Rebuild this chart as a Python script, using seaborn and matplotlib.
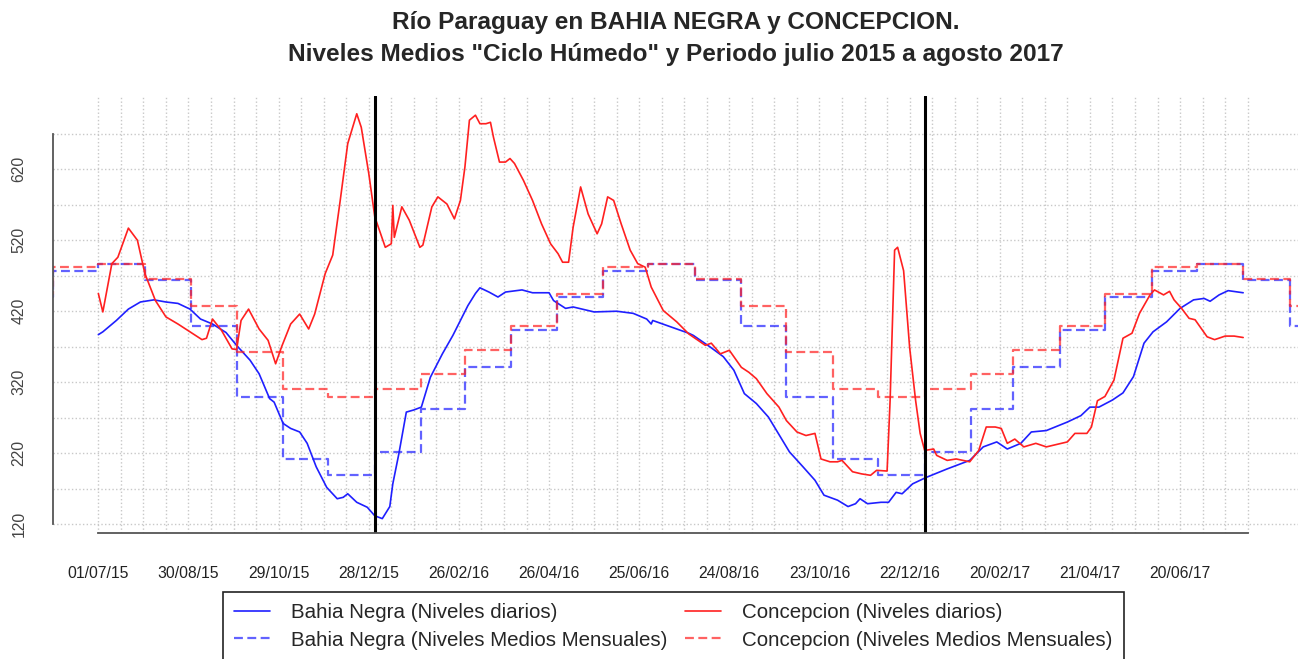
import matplotlib
matplotlib.use('Agg')
import matplotlib.pyplot as plt
import matplotlib.dates as mdates
import pandas as pd
import seaborn as sns

# Bahia Negra, daily levels (cm)
bn_dates = ['2015-07-01', '2015-07-04', '2015-07-13', '2015-07-21', '2015-07-29', '2015-08-07',
            '2015-08-15', '2015-08-23', '2015-08-31', '2015-09-07', '2015-09-15', '2015-09-24',
            '2015-10-01', '2015-10-10', '2015-10-16', '2015-10-23', '2015-10-26', '2015-11-01',
            '2015-11-06', '2015-11-12', '2015-11-17', '2015-11-23', '2015-11-30', '2015-12-07',
            '2015-12-11', '2015-12-14', '2015-12-20', '2015-12-27', '2016-01-01', '2016-01-06',
            '2016-01-11', '2016-01-13', '2016-01-17', '2016-01-22', '2016-01-27', '2016-02-01',
            '2016-02-07', '2016-02-15', '2016-02-22', '2016-02-27', '2016-03-03', '2016-03-08',
            '2016-03-11', '2016-03-17', '2016-03-23', '2016-03-28', '2016-04-08', '2016-04-15',
            '2016-04-26', '2016-04-29', '2016-05-07', '2016-05-12', '2016-05-26', '2016-06-10',
            '2016-06-21', '2016-06-30', '2016-07-03', '2016-07-04', '2016-07-16', '2016-07-28',
            '2016-07-31', '2016-08-11', '2016-08-20', '2016-08-27', '2016-09-03', '2016-09-11',
            '2016-09-19', '2016-09-27', '2016-10-03', '2016-10-12', '2016-10-20', '2016-10-26',
            '2016-11-04', '2016-11-11', '2016-11-16', '2016-11-19', '2016-11-24', '2016-12-03',
            '2016-12-08', '2016-12-13', '2016-12-17', '2016-12-24', '2017-01-02', '2017-01-16',
            '2017-01-31', '2017-02-09', '2017-02-18', '2017-02-25', '2017-03-06', '2017-03-13',
            '2017-03-23', '2017-04-06', '2017-04-15', '2017-04-21', '2017-04-27', '2017-05-06',
            '2017-05-13', '2017-05-20', '2017-05-27', '2017-06-02', '2017-06-11', '2017-06-20',
            '2017-06-29', '2017-07-06', '2017-07-10', '2017-07-16', '2017-07-22', '2017-08-01']
bn_levels = [387, 391, 407, 423, 433, 436,
             433, 431, 423, 409, 402, 390,
             372, 351, 332, 297, 292, 262,
             255, 250, 234, 201, 172, 156,
             158, 163, 151, 144, 132, 128,
             145, 177, 219, 278, 281, 285,
             327, 360, 386, 407, 428, 445,
             453, 447, 440, 447, 450, 446,
             446, 435, 424, 426, 419, 420,
             417, 409, 402, 407, 398, 389,
             386, 370, 356, 337, 304, 290,
             271, 243, 222, 201, 182, 161,
             154, 145, 149, 156, 149, 151,
             151, 165, 163, 177, 186, 198,
             210, 229, 236, 226, 234, 250,
             252, 264, 273, 285, 285, 295,
             305, 328, 375, 391, 405, 424,
             436, 438, 434, 443, 449, 446]

# Concepcion, daily levels (cm)
cc_dates = ['2015-07-01', '2015-07-04', '2015-07-10', '2015-07-14', '2015-07-21', '2015-07-27',
            '2015-08-01', '2015-08-08', '2015-08-15', '2015-08-23', '2015-08-31', '2015-09-08',
            '2015-09-11', '2015-09-15', '2015-09-21', '2015-09-28', '2015-10-01', '2015-10-04',
            '2015-10-09', '2015-10-16', '2015-10-22', '2015-10-27', '2015-10-31', '2015-11-06',
            '2015-11-12', '2015-11-18', '2015-11-22', '2015-11-29', '2015-12-04', '2015-12-09',
            '2015-12-14', '2015-12-20', '2015-12-23', '2015-12-28', '2016-01-01', '2016-01-08',
            '2016-01-12', '2016-01-13', '2016-01-14', '2016-01-19', '2016-01-24', '2016-01-31',
            '2016-02-02', '2016-02-08', '2016-02-12', '2016-02-18', '2016-02-23', '2016-02-27',
            '2016-03-01', '2016-03-04', '2016-03-08', '2016-03-11', '2016-03-15', '2016-03-18',
            '2016-03-20', '2016-03-24', '2016-03-28', '2016-03-31', '2016-04-03', '2016-04-09',
            '2016-04-15', '2016-04-21', '2016-04-27', '2016-05-02', '2016-05-05', '2016-05-09',
            '2016-05-12', '2016-05-17', '2016-05-22', '2016-05-28', '2016-05-31', '2016-06-04',
            '2016-06-08', '2016-06-13', '2016-06-19', '2016-06-24', '2016-06-29', '2016-07-03',
            '2016-07-11', '2016-07-20', '2016-07-28', '2016-08-08', '2016-08-12', '2016-08-18',
            '2016-08-24', '2016-09-01', '2016-09-06', '2016-09-11', '2016-09-18', '2016-09-26',
            '2016-10-01', '2016-10-08', '2016-10-14', '2016-10-20', '2016-10-24', '2016-10-30',
            '2016-11-04', '2016-11-07', '2016-11-14', '2016-11-20', '2016-11-26', '2016-11-30',
            '2016-12-07', '2016-12-09', '2016-12-12', '2016-12-14', '2016-12-18', '2016-12-22',
            '2016-12-26', '2016-12-29', '2017-01-01', '2017-01-07', '2017-01-09', '2017-01-16',
            '2017-01-22', '2017-01-31', '2017-02-06', '2017-02-11', '2017-02-17', '2017-02-21',
            '2017-02-25', '2017-03-02', '2017-03-08', '2017-03-16', '2017-03-23', '2017-04-06',
            '2017-04-11', '2017-04-19', '2017-04-22', '2017-04-26', '2017-05-01', '2017-05-07',
            '2017-05-13', '2017-05-19', '2017-05-24', '2017-05-31', '2017-06-03', '2017-06-09',
            '2017-06-13', '2017-06-16', '2017-06-21', '2017-06-26', '2017-06-30', '2017-07-04',
            '2017-07-08', '2017-07-13', '2017-07-20', '2017-07-26', '2017-08-01']
cc_levels = [445, 419, 487, 496, 537, 520,
             473, 435, 412, 402, 391, 380,
             382, 409, 393, 367, 366, 407,
             423, 395, 379, 346, 370, 402,
             416, 395, 416, 473, 499, 576,
             656, 698, 679, 614, 553, 510,
             515, 569, 524, 567, 548, 510,
             513, 567, 581, 571, 550, 576,
             623, 689, 696, 684, 684, 686,
             665, 630, 630, 635, 628, 604,
             576, 543, 515, 501, 489, 489,
             538, 595, 557, 529, 543, 581,
             576, 543, 506, 487, 482, 454,
             421, 405, 388, 372, 375, 360,
             365, 341, 334, 325, 304, 285,
             266, 250, 245, 248, 212, 208,
             208, 210, 194, 191, 189, 196,
             195, 294, 506, 510, 477, 369,
             294, 248, 224, 226, 217, 210,
             212, 208, 224, 257, 257, 255,
             234, 240, 229, 234, 229, 236,
             248, 248, 257, 294, 300, 323,
             382, 389, 417, 443, 450, 443,
             448, 436, 424, 410, 408, 396,
             384, 380, 385, 385, 383]

# monthly mean levels of the wet cycle, January .. December
bn_monthly = [222, 283, 341, 394, 440, 477, 486, 464, 399, 299, 212, 189]
cc_monthly = [311, 331, 366, 399, 444, 482, 487, 465, 427, 362, 311, 299]

sns.set_style('white')
plt.rcParams['font.family'] = ['Liberation Sans', 'DejaVu Sans']

bn = pd.DataFrame({'fecha': pd.to_datetime(bn_dates), 'nivel': bn_levels})
cc = pd.DataFrame({'fecha': pd.to_datetime(cc_dates), 'nivel': cc_levels})
months = pd.date_range('2015-05-01', '2017-10-01', freq='MS')
mm = pd.DataFrame({'fecha': months,
                   'bn': [bn_monthly[m.month - 1] for m in months],
                   'cc': [cc_monthly[m.month - 1] for m in months]})

fig = plt.figure(figsize=(12.98, 6.59), dpi=100)
ax = fig.add_axes([0.0406, 0.1907, 0.9594, 0.6636])

blue = '#1f1fff'
red = '#ff2020'
sns.lineplot(data=bn, x='fecha', y='nivel', color=blue, lw=1.2, ax=ax,
             label='Bahia Negra (Niveles diarios)', errorbar=None)
sns.lineplot(data=mm, x='fecha', y='bn', color=blue, lw=1.6, alpha=0.7, ls=(0, (4, 2)),
             drawstyle='steps-post', ax=ax,
             label='Bahia Negra (Niveles Medios Mensuales)', errorbar=None)
sns.lineplot(data=cc, x='fecha', y='nivel', color=red, lw=1.2, ax=ax,
             label='Concepcion (Niveles diarios)', errorbar=None)
sns.lineplot(data=mm, x='fecha', y='cc', color=red, lw=1.6, alpha=0.7, ls=(0, (4, 2)),
             drawstyle='steps-post', ax=ax,
             label='Concepcion (Niveles Medios Mensuales)', errorbar=None)

for d in ['2016-01-01', '2017-01-01']:
    ax.axvline(pd.Timestamp(d), color='black', lw=2.2)

ticks = pd.date_range('2015-07-01', periods=52, freq='15D')
ax.set_xticks(ticks)
ax.set_xticklabels([t.strftime('%d/%m/%y') if i % 4 == 0 else '' for i, t in enumerate(ticks)])
yt = list(range(120, 671, 50))
ax.set_yticks(yt)
ax.set_yticklabels([str(v) if (v - 120) % 100 == 0 else '' for v in yt], rotation=90, va='center')

ax.set_xlim(pd.Timestamp('2015-05-31 15:00'), pd.Timestamp('2017-09-06 12:00'))
ax.set_ylim(107.3, 723)
ax.grid(True, ls=':', color='#c8c8c8', lw=1.0)
ax.set_axisbelow(True)
ax.set_xlabel('')
ax.set_ylabel('')

for s in ['top', 'right']:
    ax.spines[s].set_visible(False)
for s in ['left', 'bottom']:
    ax.spines[s].set_color('#555555')
    ax.spines[s].set_linewidth(1.3)
ax.spines['left'].set_bounds(120, 670)
ax.spines['bottom'].set_bounds(mdates.date2num(ticks[0]), mdates.date2num(ticks[-1]))
ax.tick_params(axis='x', length=6.5, width=1.3, color='#555555', pad=17, labelsize=11.3, labelcolor='#222222')
ax.tick_params(axis='y', length=9, width=1.3, color='#555555', pad=10, labelsize=11.3, labelcolor='#444444')

handles, labels = ax.get_legend_handles_labels()
ax.get_legend().remove()
leg = fig.legend(handles, labels, ncol=2, loc='upper left',
                 bbox_to_anchor=(222.7 / 1298, 1 - 592 / 659), borderaxespad=0,
                 fancybox=False, edgecolor='#222222', framealpha=1, fontsize=14.8,
                 handlelength=1.75, handletextpad=1.0, columnspacing=0.9,
                 borderpad=0.55, labelspacing=0.4)
leg.get_frame().set_linewidth(1.2)

fig.text(676 / 1298, 1 - 22 / 659, 'Río Paraguay en BAHIA NEGRA y CONCEPCION.',
         ha='center', va='center', fontsize=17.6, fontweight='bold')
fig.text(676 / 1298, 1 - 55 / 659, 'Niveles Medios "Ciclo Húmedo" y Periodo julio 2015 a agosto 2017',
         ha='center', va='center', fontsize=17.6, fontweight='bold')

fig.savefig('out.png', dpi=100)
